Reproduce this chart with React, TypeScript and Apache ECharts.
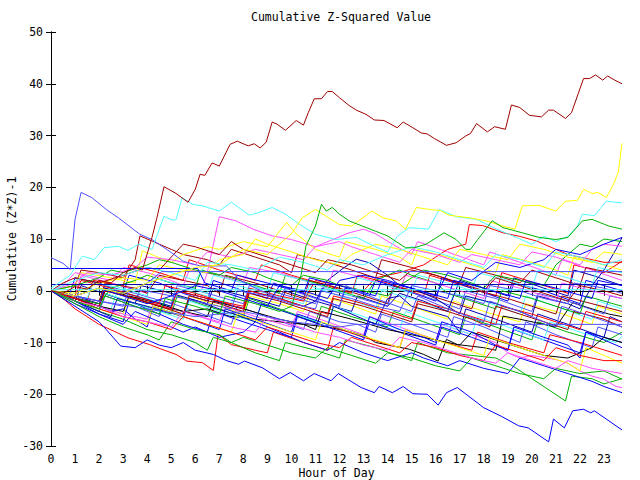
import React, { useEffect, useRef } from "react";
import * as echarts from "echarts";

type P = [number, number][];

const chartTitle = "Cumulative Z-Squared Value";
const xName = "Hour of Day";
const yName = "Cumulative (Z*Z)-1";

const RED = "#ff0000", GREEN = "#00b000", BLUE = "#0000ff", MAGENTA = "#ff50ff", CYAN = "#50ffff",
  DARKRED = "#a00000", SLATE = "#5050ff", YELLOW = "#ffff00", BLACK = "#000000", NAVY = "#0000b0";

const darkRedTop: P = [[0,0],[0.5,-0.5],[1,0.8],[1.5,0.3],[2,2],[2.5,1.5],[3,3.5],[3.5,4.5],[3.8,4],[4.2,10.3],[4.4,14],[4.7,20.1],[5.2,18.8],[5.7,17.1],[6.0,19.6],[6.2,22.5],[6.4,22.3],[6.7,24.7],[7.0,24.1],[7.45,28.3],[7.75,28.9],[8.2,28.0],[8.45,28.4],[8.7,27.6],[8.95,28.7],[9.2,32.6],[9.4,32.2],[9.75,31.0],[10.2,32.9],[10.5,32.0],[10.7,34.4],[10.95,37.1],[11.25,37.1],[11.5,38.5],[11.7,38.5],[12.0,37.3],[12.4,35.8],[12.7,34.9],[13.1,34.1],[13.45,33.0],[13.85,32.9],[14.4,31.5],[14.65,32.6],[15.05,31.5],[15.4,30.5],[15.65,30.3],[15.95,29.4],[16.45,28.1],[16.85,28.6],[17.25,29.9],[17.45,30.4],[17.7,32.3],[18.15,30.7],[18.45,31.7],[18.9,31.2],[19.15,35.9],[19.5,35.4],[19.9,33.9],[20.4,33.6],[20.7,34.9],[20.9,34.9],[21.4,33.3],[21.65,34.4],[22.15,41.0],[22.4,41.0],[22.65,41.7],[22.95,40.7],[23.15,41.5],[23.45,40.7],[23.75,40.0]];
const slateSpike: P = [[0,6.4],[0.5,5.3],[0.8,4.1],[1.0,13.8],[1.25,19.0],[1.7,18.0],[2.3,15.7],[2.8,14.1],[3.7,10.9],[4.2,9.9],[5.0,7.4],[5.5,5.7],[6.2,4.8],[7.3,4.8],[7.8,2.2],[8.5,0.5],[9.5,-1.5],[9.75,0.5],[11,-1.5],[12,-3],[12.25,1],[13.5,-1.5],[15,-4],[15.25,-1],[16.5,-3.5],[18,-6],[18.25,-2],[19.5,-4],[21,-7],[21.25,-3],[22.5,-5],[23.75,-7]];
const cyanTop: P = [[0,0.5],[0.8,3],[1.3,6.7],[1.8,6],[2.2,8.3],[2.8,8.6],[3.2,7.8],[3.65,9],[4.2,8],[4.7,14.4],[5.0,13.7],[5.2,13.7],[5.45,18],[5.9,16.7],[6.3,16.4],[7.0,15.4],[7.5,17.1],[8.25,14.6],[8.65,15.1],[9.2,16.1],[9.75,14.8],[10.45,12.5],[11.0,10.9],[11.85,9.9],[12.7,10.3],[13.5,8.5],[14.0,7.5],[14.4,10.5],[14.9,12.2],[15.7,11.9],[16.15,15.7],[16.85,14.3],[17.7,13.8],[18.5,12],[19,11],[19.5,10],[20,9],[20.5,10.5],[21,9.5],[21.5,10.5],[21.9,12.5],[22.1,14.8],[22.6,14.5],[23.1,17.3],[23.5,17.1],[23.75,17]];
const yellowHigh: P = [[0,0],[1,-1],[2,0.5],[3,-0.5],[4,1.5],[5,3],[6,4.5],[7,5],[8,8],[9,7],[10,11],[10.45,14.1],[11,15.7],[11.55,14.1],[12,12.8],[12.5,12.5],[13.35,15.4],[13.8,14.1],[14.35,13.5],[14.75,11.9],[15.2,16.1],[15.75,15.7],[16.2,15.5],[16.55,14.6],[17.4,14.1],[18.1,13.5],[18.8,12.5],[19.3,11.9],[19.6,16.4],[20.3,16.5],[21.0,15.4],[21.4,17.3],[21.9,17.5],[22.15,19.6],[22.5,18.8],[22.75,19.0],[23.1,18],[23.4,20.6],[23.6,23],[23.75,28.5]];
const greenPeak: P = [[0,0],[1,-2],[2,-3.5],[2.25,-1],[3.5,-3],[4.5,-4.5],[4.75,-1.5],[6,-3],[7,-4.5],[7.25,-1],[8.5,-2.5],[9.5,-4],[10,-3],[10.4,3],[10.6,8.6],[11.0,12.5],[11.25,16.7],[11.45,15.4],[11.7,16.1],[12.0,14.8],[12.4,13.5],[12.95,12.5],[13.5,11.5],[14.0,10.6],[14.75,8.3],[15.1,8.3],[15.6,9.0],[16.35,11.2],[16.85,9.9],[17.25,8.0],[17.45,8.0],[17.75,9.9],[18.35,13.5],[18.8,12.2],[19.6,11.2],[20.3,10.3],[21,9.9],[21.5,10.3],[22.1,13.5],[22.5,13.8],[23.2,12.5],[23.75,11.9]];
const blueLow: P = [[0,0],[0.5,-1.5],[1,-3],[1.5,-4.5],[2,-6],[2.3,-7.5],[2.9,-10.7],[3.5,-11],[4,-9.5],[4.5,-10.5],[5,-11],[5.5,-10],[6,-11.5],[6.75,-12.3],[7.3,-13.5],[7.8,-14.2],[8.05,-13.6],[8.8,-14.9],[9.5,-17.0],[9.95,-15.8],[10.5,-17.4],[10.95,-16.0],[11.65,-17.4],[11.95,-16.0],[12.9,-18.7],[13.45,-19.7],[13.65,-18.5],[14.2,-19.7],[14.65,-18.5],[15.05,-19.9],[15.65,-20.0],[16.1,-22.1],[16.45,-19.7],[16.9,-18.7],[18.0,-22.6],[18.75,-24.3],[19.45,-26.1],[19.85,-26.5],[20.7,-29.2],[20.9,-24.8],[21.35,-26.5],[21.7,-23.2],[22.15,-22.9],[22.45,-23.6],[22.6,-23.2],[23.75,-26.9]];

const b1: P = [[0,0],[1.5,-2],[1.75,2],[3,1],[3.25,5],[4.5,3.5],[5.5,2],[5.75,6],[7,4],[8.5,2],[8.75,5],[10,3],[11.5,1],[12.5,-0.5],[12.75,3],[14,1.5],[15.5,-1],[15.75,3],[17.5,0.5],[18.5,-1],[18.75,3.5],[20.5,1],[21.5,-0.5],[21.75,5],[23,3.5],[23.75,5.7]];
const b2: P = [[0,0],[1,-1.5],[2,-3],[2.25,-0.5],[3.5,-2.5],[5,-4.5],[5.25,-1],[6.5,-3],[8,-5],[8.25,-1.5],[9.5,-3.5],[11,-6],[11.25,-3],[12.5,-5],[14,-7],[14.25,-4],[15.5,-6],[17,-8.5],[17.25,-5],[18.5,-7],[20,-9.5],[20.25,-6],[21.5,-8],[23,-10],[23.75,-8]];
const b3: P = [[0,0],[0.75,-1],[1,2.5],[2,1.5],[3,-0.5],[3.25,3],[4.5,1.5],[5.5,-0.5],[6.5,-2],[6.75,2],[8,0],[9,-1.5],[9.25,1.5],[10.5,-0.5],[12,-3],[12.25,0.5],[13.25,-1],[13.5,2],[14.5,0.5],[16,-2],[16.25,2.5],[17.5,0.5],[19,-2],[19.25,1.5],[20.5,0],[22,-2.5],[22.25,2],[23.75,0]];
const b4: P = [[0,0],[1,-1],[1.25,3],[2.5,1.5],[4,-0.5],[4.25,2.5],[5.5,1],[6.25,0],[6.5,3.5],[7,14.3],[7.7,13.5],[8.4,11.9],[9.2,10.6],[10,9.9],[11,8.5],[12.4,11.2],[13,11.9],[13.5,11],[14.35,8.6],[15,7],[15.25,9.5],[16.5,7.5],[18,5],[18.25,7.5],[19.5,5.5],[21,3],[21.25,6],[22.5,4],[23.75,2]];
const b5: P = [[0,0],[1,-1.5],[2,-3],[2.5,-3.5],[2.75,0],[4,-1.5],[5,-3],[5.25,0.5],[6.5,-1],[7.5,-2.5],[7.75,1],[9,-0.5],[10.5,-2.5],[10.75,1],[12,-1],[13.5,-3.5],[13.75,0],[15,-1.5],[16.5,-4],[16.75,-0.5],[18,-2],[19.5,-4.5],[19.75,-1],[21,-3],[22.5,-5.5],[22.75,-2],[23.75,-3.5]];
const b6: P = [[0,0],[1,1],[1.25,4],[2,3.5],[3,2.5],[3.5,6],[3.7,10.6],[4.5,9],[5,8],[5.5,7],[6.5,6],[7,5],[7.5,8],[8.5,6.5],[9.5,5],[10,3.5],[10.25,7],[11.5,5.5],[12.5,4],[13.5,2.5],[13.75,6],[15,4.5],[16,3],[17,1.5],[17.25,4.5],[18.5,3],[19.5,1.5],[20,4],[21,2.5],[22,1],[22.25,4.5],[23.75,3]];
const b7: P = [[0,0],[1,-2],[2,-4],[2.25,-1],[3.5,-3],[4.5,-5],[4.75,-2],[6,-4],[7.5,-6.5],[7.75,-3],[9,-5],[10.5,-7.5],[10.75,-4],[12,-6],[12.75,-6.5],[13.5,-8],[13.75,-4.5],[15,-6.5],[16.5,-9],[16.75,-5],[18,-7],[19.5,-10],[19.75,-6],[21,-8.5],[22.5,-11],[22.75,-7],[23.75,-8.5]];
const b8: P = [[0,0],[1,-1.5],[2,-3],[3,-4.5],[3.25,-1.5],[4.5,-3],[5.5,-4.5],[5.75,-1],[7,-3],[8,-4.5],[8.25,-1],[9.5,-2.5],[10.5,-4],[10.75,-0.5],[12,-2],[13.5,-4.5],[13.75,-1],[15,-3],[16.5,-5.5],[16.75,-2],[18,-4],[19.5,-6],[19.75,-2.5],[21,-4],[22.5,-6.5],[22.75,-3],[23.75,-4.5]];
const b9: P = [[0,0],[1,-1.5],[2,-2.5],[2.25,0.5],[3.5,-1.5],[4.5,-3],[5.5,-4],[6.5,-3.5],[7.4,-4.9],[8.5,-5.5],[9.5,-6],[10.5,-6.5],[11.5,-7],[12.5,-8],[13.1,-8.8],[13.5,-10],[14.9,-11.3],[15.5,-12.3],[16.1,-13.6],[16.45,-9.4],[16.9,-10.4],[18,-11],[18.5,-11.5],[18.8,-4.9],[19.5,-5.5],[20.5,-6.5],[21,-7],[21.7,-2.3],[22.5,-3.5],[23.2,-4.5],[23.75,-5]];
const b10: P = [[0,0],[1,-2],[1.25,1],[2.5,-1],[3.5,-2.5],[3.75,1],[5,-0.5],[6.5,-2.5],[6.75,0.5],[8,-1],[9.5,-3],[9.75,0],[11,-2],[12.5,-4],[12.75,-1],[14,-3],[14.5,-0.5],[15.5,-2],[16.5,-4],[17,2],[18,0.5],[19,-1],[19.25,2.5],[20.5,0.5],[21.5,-1],[21.75,4],[22.5,3],[23.75,1]];
const b11: P = [[0,0],[0.5,-1.5],[1,-3.5],[1.5,-5],[2,-6.5],[2.75,-8.1],[3.2,-9.1],[4.1,-10.4],[4.6,-11.3],[5.2,-12.3],[5.65,-13.6],[6.3,-13.9],[6.75,-15.4],[6.95,-8.4],[7.5,-10.4],[8.5,-11.5],[9,-12],[9.25,-8],[10.5,-10],[11.5,-11.5],[11.75,-7],[13,-9],[14.5,-11],[14.75,-7.5],[16,-9.5],[17.5,-11.5],[17.75,-8],[19,-10],[20.5,-12],[20.75,-8.5],[22,-10],[23.75,-12.5]];
const b12: P = [[0,0],[1,-2],[2,-4],[3,-5.5],[4,-7.5],[5,-8.5],[6,-10],[6.5,-11.5],[6.75,-9],[7.5,-10],[8.5,-12],[9.5,-13.5],[9.75,-10],[11,-11.5],[12,-13],[12.25,-9.5],[13.5,-11],[15,-13.5],[15.25,-10],[16.5,-12],[17.5,-12.5],[18.5,-13],[19.2,-14.5],[21.4,-21.3],[21.65,-16.5],[22.5,-17],[23,-18],[23.75,-17]];
const b13: P = [[0,0],[1,-2.5],[2,-4.5],[3,-6],[3.25,-2],[4.5,-4.5],[5.5,-6.5],[6.5,-8],[6.75,-4],[8,-6],[9,-7.5],[10,-9],[10.25,-5],[11.5,-7],[13,-9.5],[13.25,-6],[14.5,-8],[16,-10.5],[16.25,-7],[17.5,-9],[19,-11.5],[19.25,-7.5],[20.5,-9.5],[22,-12],[22.25,-8],[23.75,-10]];
const b14: P = [[0,0],[1,-1.5],[2,-3],[3,-4.5],[4,-5.5],[4.25,-2.5],[5.5,-4],[7,-6],[7.25,-3],[8.5,-5],[10,-7],[10.25,-4],[11.5,-6],[13,-8.5],[13.25,-5],[14.5,-7],[16,-9.5],[16.25,-6.5],[17.5,-8.5],[18.5,-10],[19,-12],[19.5,-13],[20,-12.5],[21,-13.3],[21.5,-14],[22,-15.5],[22.5,-16.5],[23,-17.1],[23.5,-18.5],[23.75,-18.7]];
const b15: P = [[0,0],[1,-2],[2,-3.5],[2.25,-0.5],[3.5,-2.5],[4.5,-4],[5.5,-5.5],[5.75,-2],[7,-4],[8.5,-6],[8.75,-2.5],[10,-4.5],[11.5,-6.5],[11.75,-3],[13,-5],[14.5,-7.5],[14.75,-4],[16,-6],[17.5,-8.5],[17.75,-5],[19,-7],[20.5,-9.5],[20.75,-6],[22,-8],[23.5,-10],[23.75,-8.8]];
const b16: P = [[0,0],[1,-1],[2,-2],[2.25,1.5],[3.5,0.5],[4,-0.5],[4.5,3],[5.5,2],[6.5,1],[7,-0.5],[7.25,3],[8.5,1.5],[9.5,0],[10.5,-1.5],[10.75,2],[12,0.5],[13,-1],[14,-2.5],[14.25,1],[15.5,-0.5],[16.5,-2],[17.5,-3.5],[17.75,0],[19,-1.5],[20,-3],[21,-4.5],[21.25,-1],[22.5,-2.5],[23.75,-4]];
const b17: P = [[0,0],[1,-1.5],[2,-3],[2.25,1],[3.5,-0.5],[5,-2.5],[5.25,1],[6.5,-0.5],[8,-2.5],[8.25,1],[9.5,-0.5],[11,-2.5],[11.25,0.5],[12.5,-1],[14,-3],[14.25,0.5],[15.5,-1],[17,-3.5],[17.25,0],[18.5,-1.5],[20,-4],[20.25,-0.5],[21.5,-2],[23,-4.5],[23.25,-1],[23.75,-1.5]];
const b18: P = [[0,0],[1,1],[1.25,3.5],[2.5,2.5],[3.5,1.5],[3.8,7.7],[5,5.5],[5.5,7],[6.5,8.5],[7,8],[8,9.5],[9,8.5],[9.8,13.2],[10.2,11],[11,8],[12,6.5],[12.25,9.5],[13.5,8],[14.5,6.5],[15,5],[15.25,8],[16.5,6.5],[17.5,5],[18.5,3.5],[18.75,7],[20,5.5],[21,4],[21.5,3],[21.75,6.5],[23,5],[23.75,4]];
const b19: P = [[0,0],[1,-1.5],[2,-3],[3,-4],[3.25,-1],[4.5,-2.5],[5.5,-4],[6.5,-5],[6.75,-2],[8,-3.5],[9.5,-5.5],[10.5,-6.5],[11,-7.5],[11.25,-4],[12.5,-5.5],[14,-7.5],[15,-8.5],[16,-9.5],[17,-10.5],[17.5,-8],[18.5,-9.5],[19.5,-11],[20.5,-12.5],[21.5,-13],[22,-12],[22.5,-11],[23,-9],[23.75,-10]];
const b20: P = [[0,0],[0.5,-0.5],[1,-2],[2,-4],[2.5,-5],[2.75,-1.5],[4,-3],[5.5,-5],[5.75,-1.5],[7,-3.5],[8.5,-6],[8.75,-2.5],[10,-4.5],[11.5,-7],[11.75,-3],[13,-5.5],[13.5,-6.5],[14,-1.5],[14.5,-1],[15,-3],[16.5,-5],[17,-8],[17.25,-3.5],[18.5,-5.5],[20,-8],[20.25,-4.5],[21.5,-6.5],[23,-9],[23.25,-5],[23.75,-6]];
const b21: P = [[0,0],[1,-1],[2,-2.5],[2.25,0.5],[3.5,-1],[5,-3],[5.25,0],[6.5,-1.5],[8,-3.5],[8.25,0],[9.5,-1.5],[10.5,-3],[11,-2],[11.5,2],[12.2,4.5],[12.7,6.1],[13.25,5.4],[14,3],[14.5,1],[15,0.5],[16,-1.5],[16.5,-3],[17,-4.5],[17.25,-1],[18.5,-2.5],[19.5,-4],[20,-5],[20.25,-1],[21.5,-2.5],[22,-3.5],[22.5,1],[23,4],[23.5,8],[23.75,10.3]];
const b22: P = [[0,0],[1,-1],[1.25,2],[2.5,0.5],[3.5,-1],[4.5,-2.5],[4.75,1],[6,-0.5],[7,-2],[8,-3.5],[8.25,0],[9.5,-1.5],[10.5,-3],[11.5,-4.5],[11.75,-1],[13,-2.5],[14,-4],[15,-5.5],[15.25,-2],[16.5,-3.5],[17.5,-5],[18.5,-6.5],[18.75,-3],[20,-4.5],[21,-6],[22,-7.5],[22.25,-4],[23.75,-6]];
const b23: P = [[0,0],[1,-1.5],[2,-3],[2.25,0],[3.5,-1.5],[5,-3.5],[5.25,0],[6.5,-1.5],[8,-3],[8.25,0.5],[9.5,-1],[10.5,-2],[11,2],[12,1],[13,0],[13.5,2.5],[14.5,3.5],[15.5,5],[16,6.5],[16.5,8],[17.25,9],[17.4,12.8],[17.95,12.6],[18.8,11.2],[19.5,10.5],[20.2,9.6],[21,8],[21.5,7],[22,6.5],[22.5,6],[23,5.5],[23.75,5.5]];
const b24: P = [[0,0],[1,-1.5],[2,-2.5],[2.5,0.5],[3.5,2],[4,3],[5,1.5],[6,0.5],[6.25,4],[7.5,2.5],[8.5,1],[9.5,-0.5],[9.75,3],[11,1.5],[12,0],[13,-1.5],[13.5,2],[14.5,4],[15,3],[16,1.5],[16.5,-0.5],[17.5,-2],[18.5,-3.5],[18.75,0],[20,-1.5],[21,-3],[22,-4.5],[22.25,-1],[23.75,-3]];
const b25: P = [[0,0],[1,-1.5],[2,-3],[2.5,-4],[3,-3.5],[3.5,-5.5],[4,-7],[4.25,-3],[5.5,-5],[7,-7.5],[7.25,-3.5],[8.5,-5.5],[10,-8],[10.25,-4.5],[11.5,-6.5],[12.5,-8],[13,-9],[13.25,-5],[14.5,-7.5],[15.5,-9],[16,-10],[16.25,-6],[17.5,-8],[18.5,-10.5],[19,-11.5],[19.25,-7],[20.5,-9],[21.5,-10.5],[22,-13],[22.25,-8],[23,-9.5],[23.75,-11]];
const b26: P = [[0,0],[0.5,1],[1,3.5],[1.5,3],[2.5,2],[3,4.5],[4,3.5],[5,2],[5.5,1],[5.75,4],[7,3],[8,1.5],[8.25,4.5],[9.5,3.5],[10.5,2],[11.5,0.5],[11.75,4],[13,2.5],[14,1],[14.5,0],[14.75,3],[16,1.5],[17,0],[18,-1.5],[18.25,2],[19.5,0.5],[20.5,-1],[21,-2],[21.25,1.5],[22.5,0],[23.75,-1.5]];
const b27: P = [[0,0],[1,-1],[1.5,-1.5],[1.75,1.5],[3,0.5],[4,-1],[4.25,2.5],[5.5,1],[6.5,-0.5],[6.75,3],[8,1.5],[9,0],[9.25,3.5],[10.5,2],[11.5,0.5],[12.5,-1],[12.75,2.5],[14,1],[15,-0.5],[15.25,3],[16.5,1.5],[17.5,0],[17.75,3.5],[19,2],[20,0.5],[20.25,4],[21.5,2.5],[22.5,1],[22.75,4.5],[23.75,3.5]];
const b28: P = [[0,0],[1,-1.5],[2,-3],[2.25,0],[3.5,-1.5],[4.5,-3],[5.5,-4.5],[5.75,-1],[7,-2.5],[8,-4],[8.25,-0.5],[9.5,-2],[10.5,-3.5],[11.5,-5],[11.75,-1.5],[13,-3],[14,-4.5],[15,-6],[15.25,-2.5],[16.5,-4],[17.5,-5.5],[18.25,-7],[18.5,-3],[19.5,-4.5],[20.5,-6],[21.5,-7.5],[21.75,-4],[23,-5.5],[23.75,-7]];
const b29: P = [[0,0],[1,-1],[2,-2],[3,-3],[3.25,0.5],[4.5,-0.5],[5.5,-1.5],[6.5,-2.5],[7.5,-3.5],[7.75,0],[9,-1],[10,-2.5],[11,-3.5],[11.25,0],[12.5,-1.5],[13.5,-3],[14.5,-4],[15,1],[16,0],[17,-1],[18,-2.5],[18.25,1],[19.5,0],[20.5,-1.5],[21.5,-2.5],[21.75,1.5],[23,0.5],[23.75,-0.5]];
const b30: P = [[0,0],[1,-2],[2,-3.5],[3,-5],[4,-6.5],[4.25,-3],[5.5,-5],[6.5,-6.5],[7.5,-8],[7.75,-4.5],[9,-6.5],[10,-8],[11,-9.5],[11.25,-6],[12.5,-8],[13.5,-9.5],[14.5,-11],[14.75,-7.5],[16,-9.5],[17,-11],[18,-12.5],[18.25,-9],[19.5,-11],[20.5,-12.5],[21.5,-14],[22,-15.5],[22.25,-11],[23,-12.5],[23.75,-14]];
const b31: P = [[0,0],[1,1],[2,2.5],[2.5,4],[3,3.5],[4,5],[4.5,6],[5,5.5],[6,4],[7,3],[7.5,4.5],[8.5,3.5],[9,2.5],[10,1],[10.5,3],[11.5,2],[12,1],[13,0],[14,-1],[14.5,1],[15,2.5],[15.5,4],[16.5,3],[17.5,1.5],[18,0.5],[18.5,3],[19.5,2],[20.5,1],[21,5],[21.5,7],[22,9],[22.5,8.5],[23,10],[23.75,9.5]];
const b32: P = [[0,0],[1,1.5],[1.5,3.5],[2.5,3],[3.5,4.5],[4,6.5],[5,6],[6,5],[6.5,7.5],[7.5,6.5],[8.5,8],[9.5,7],[10.5,6],[11,8.5],[12,9.5],[12.5,8.5],[13.5,7],[14.5,5.5],[15,8],[16,7],[17,5.5],[17.5,7],[18.5,6],[19.5,5],[20,7.5],[21,6.5],[22,5],[22.5,8],[23,9],[23.75,8.6]];
const b33: P = [[0,0],[1,-0.5],[2,1.5],[3,2.5],[4,2],[4.5,5],[5.5,4],[6.5,3.5],[7,6],[8,7],[8.5,10],[9,9],[10,7.5],[11,6],[12,5],[12.5,7],[13.5,9],[14.5,8],[15.5,6.5],[16.5,5],[17,8],[18,7],[19,6],[19.5,9],[20.5,8],[21.5,6.5],[22.5,5.5],[23,7.5],[23.75,7]];
const b34: P = [[0,0],[0.5,1.5],[1,2.5],[2,1.5],[3,3],[4,4.5],[4.5,4],[5.5,9],[6,8.5],[7,7],[7.5,9.5],[8,8],[9,6.5],[10,5],[11,3.5],[11.5,6],[12.5,5],[13.5,3.5],[14.5,2],[15,4],[16,3],[17,1.5],[18,0],[18.5,2.5],[19.5,1],[20.5,-0.5],[21.5,-2],[22,1],[23,0],[23.75,-1]];
const b35: P = [[0,0],[1,-2],[2,-4.5],[3,-6.5],[3.5,-4],[4.5,-6],[5.5,-8],[6,-7],[7,-9],[8,-8],[8.5,-6],[9.5,-8],[10.5,-10],[11.5,-11.5],[12,-10],[13,-12],[14,-13.5],[15,-12],[15.5,-13],[16.5,-14.5],[17,-13.5],[18,-15],[19,-16],[19.5,-13],[20.5,-14.5],[21.5,-16],[22.5,-17.5],[23,-18.5],[23.75,-19.7]];
const b36: P = [[0,0],[1,-2.5],[2,-5],[3,-7],[4,-8.5],[4.5,-9.5],[5,-6],[6,-7.5],[7,-8.5],[7.5,-10],[8,-9],[9,-10.5],[10,-12],[11,-13],[11.5,-11],[12.5,-12.5],[13.5,-14],[14,-12],[15,-13],[16,-14.5],[17,-15.5],[17.5,-13],[18.5,-14.5],[19.5,-16],[20.5,-17],[21,-15],[22,-16],[23,-15.5],[23.75,-17.1]];
const b37: P = [[0,0],[1,-1],[2,0.5],[3,-1],[4,-2.5],[5,-1],[6,1],[7,0],[8,-1.5],[9,-3],[9.5,1],[10.5,0],[11.5,-1.5],[12,2],[13,3],[14,2],[15,0.5],[16,-1],[16.5,3.5],[17.5,2],[18.5,5.5],[19.5,4.5],[20.5,6],[21,8],[22,7],[23,9],[23.75,10.3]];
const b38: P = [[0,0],[1,-1.5],[2,-3.5],[3,-5],[4,-6],[5,-7.5],[5.5,-5],[6.5,-6.5],[7.5,-8],[8.5,-9.5],[9,-7],[10,-8.5],[11,-10],[12,-11],[12.5,-9],[13.5,-10.5],[14.5,-12],[15,-10],[16,-11],[17,-12.5],[18,-13.5],[18.5,-10.5],[19.5,-12],[20.5,-13.5],[21,-11],[22,-12.5],[23,-13.5],[23.75,-13.5]];
const b39: P = [[0,0],[1,-2],[2,-3],[3,-5],[4,-6],[5,-7],[5.5,-4],[6.5,-5.5],[7.5,-7],[8.5,-8],[9,-5],[10,-6.5],[11,-8],[12,-9],[13,-10.5],[14,-11.5],[14.5,-9],[15.5,-10],[16.5,-11.5],[17.5,-13],[18.5,-14],[19,-12],[20,-13.5],[21,-15],[21.5,-13.5],[22.5,-15],[23.75,-16]];
const b40: P = [[0,0],[1,2],[2,3.5],[3,3],[4,4.5],[5,3.5],[6,2],[6.5,5.5],[7.5,5],[8.5,4],[9.5,6.5],[10.5,5.5],[11.5,4],[12,6],[13,5],[14,7],[15,8.5],[16,7.5],[17,6],[18,4.5],[18.5,7],[19.5,6],[20.5,4.5],[21,7.5],[22,6.5],[23,5],[23.75,6]];
const flatA: P = [[0,4.3],[6.1,4.3],[6.4,1.5],[7.5,0],[7.75,3],[9,1.5],[10.5,-0.5],[10.75,2.5],[12,1],[13.5,-1],[13.75,2],[15,0.5],[16.5,-1.5],[16.75,2],[18,0.5],[19.5,-1.5],[19.75,2],[21,0.5],[22.5,-1.5],[22.75,2],[23.75,1]];
const flatB: P = [[0,0],[1,-1],[2,0.5],[3,-0.5],[4,1.5],[4.6,3.7],[23.75,3.7]];
const flatC: P = [[0,1.2],[23.75,1.2]];
const flatD: P = [[0,0.2],[23.75,0.2]];
const flatE: P = [[0,0],[2,-2],[4,-3.5],[6,-5],[8,-4],[10,-6],[12,-7],[12.7,-6.5],[23.75,-6.5]];

const seriesList: [P, string][] = [
  [b1, RED], [b2, GREEN], [b3, BLUE], [b4, MAGENTA], [b5, CYAN], [b6, DARKRED], [b7, SLATE], [b8, YELLOW],
  [b9, BLACK], [b10, NAVY], [b11, RED], [b12, GREEN], [b13, BLUE], [b14, MAGENTA], [b15, CYAN], [b16, DARKRED],
  [b17, SLATE], [b18, YELLOW], [b19, BLACK], [b20, NAVY], [b21, NAVY], [b22, RED], [b23, RED], [b24, GREEN],
  [b25, BLUE], [b26, MAGENTA], [b27, CYAN], [b28, DARKRED], [b29, SLATE], [b30, YELLOW], [b31, GREEN],
  [b32, MAGENTA], [b33, YELLOW], [b34, DARKRED], [b35, BLUE], [b36, GREEN], [b37, BLUE], [b38, RED], [b39, MAGENTA], [b40, CYAN],
  [flatA, BLUE], [flatB, SLATE], [flatC, NAVY], [flatD, CYAN], [flatE, SLATE],
  [slateSpike, SLATE], [cyanTop, CYAN], [yellowHigh, YELLOW], [greenPeak, GREEN], [blueLow, BLUE], [darkRedTop, DARKRED],
];

const FONT = "DejaVu Sans Mono";

export default function App() {
  const ref = useRef<HTMLDivElement>(null);
  useEffect(() => {
    if (!ref.current) return;
    const chart = echarts.init(ref.current, undefined, { renderer: "svg" });
    const axisCommon = {
      axisLine: { show: true, lineStyle: { color: "#000", width: 1 } },
      axisTick: { show: true, inside: true, length: 5, lineStyle: { color: "#000" } },
      splitLine: { show: false },
    };
    const labelStyle = { color: "#000", fontFamily: FONT, fontSize: 11.5 };
    chart.setOption({
      animation: false,
      backgroundColor: "#fff",
      title: {
        text: chartTitle, left: 246, top: 6,
        textStyle: { color: "#000", fontFamily: FONT, fontSize: 11.5, fontWeight: "normal" },
      },
      grid: { left: 51, right: 18, top: 32, bottom: 34, containLabel: false, outerBoundsMode: "none" },
      xAxis: [
        { type: "value", min: 0, max: 23.75, interval: 1, ...axisCommon,
          axisLabel: { ...labelStyle, margin: 7, showMaxLabel: false },
          name: xName, nameLocation: "middle", nameGap: 21, nameMoveOverlap: false, nameTextStyle: labelStyle },
        { type: "value", position: "top", min: 0, max: 23.75, interval: 1, ...axisCommon, axisLabel: { show: false } },
      ],
      yAxis: [
        { type: "value", min: -30, max: 50, interval: 10, ...axisCommon,
          axisLabel: { ...labelStyle, margin: 8 },
          name: yName, nameLocation: "middle", nameGap: 33, nameRotate: 90, nameMoveOverlap: false, nameTextStyle: labelStyle },
        { type: "value", position: "right", min: -30, max: 50, interval: 10, ...axisCommon, axisLabel: { show: false } },
      ],
      series: seriesList.map(([d, c]) => ({
        type: "line", data: d, xAxisIndex: 0, yAxisIndex: 0, showSymbol: false, symbol: "none",
        lineStyle: { width: 1, color: c }, itemStyle: { color: c }, silent: true, clip: true,
      })),
    });
    return () => chart.dispose();
  }, []);
  return <div ref={ref} style={{ position: "fixed", left: 0, top: 0, width: 640, height: 480, background: "#fff" }} />;
}
